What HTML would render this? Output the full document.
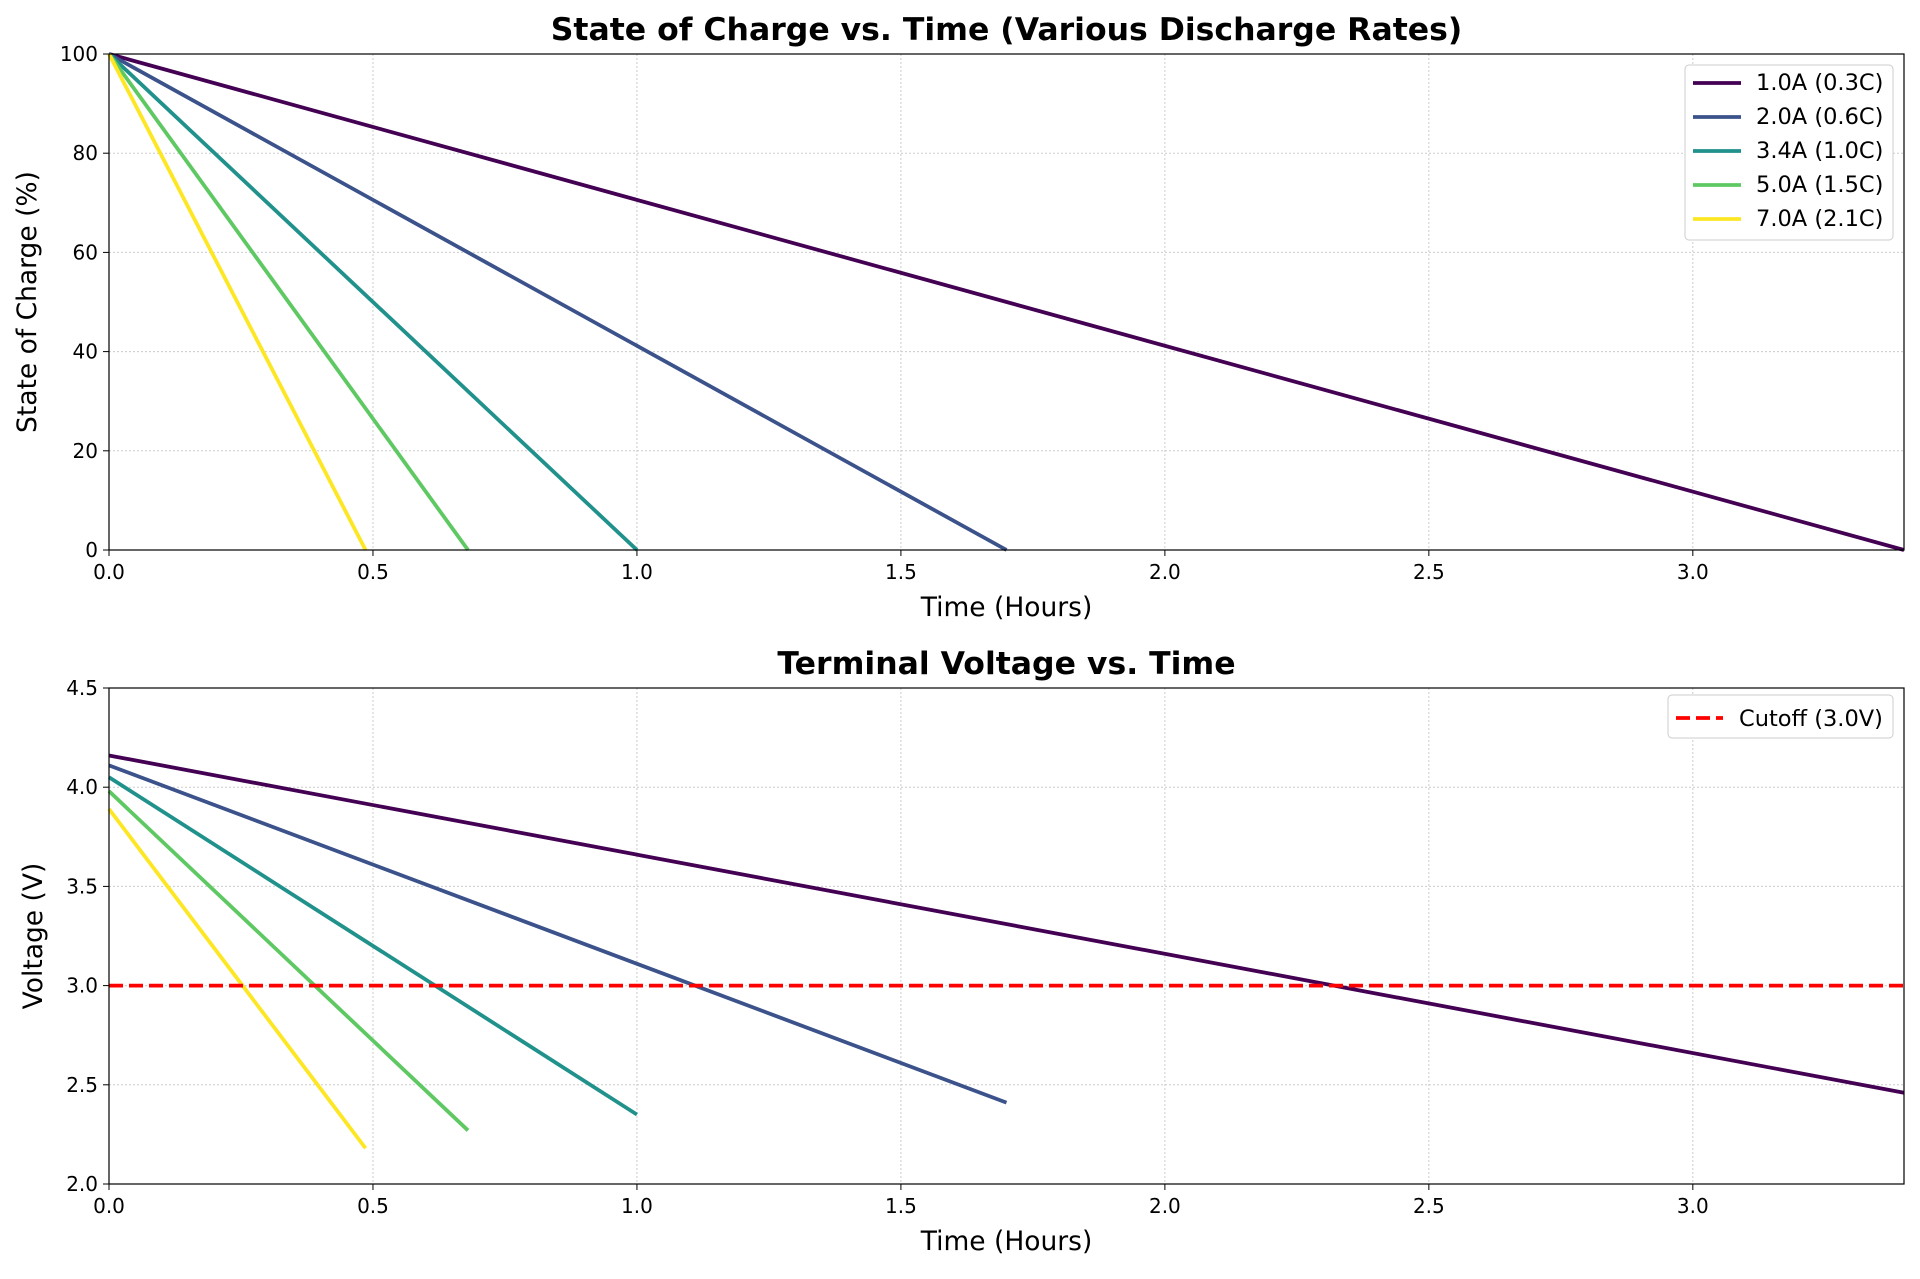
<!DOCTYPE html>
<html><head><meta charset="utf-8"><style>
body{margin:0;background:#fff;}
svg text{font-family:"DejaVu Sans","Liberation Sans",sans-serif;}
</style></head><body>
<svg id="c" width="1920" height="1274" xmlns="http://www.w3.org/2000/svg"></svg>
<script>
const labels=["1.0A (0.3C)","2.0A (0.6C)","3.4A (1.0C)","5.0A (1.5C)","7.0A (2.1C)"];
const endTimes=[3.4,1.7,1.0,0.68,0.486];
const vStart=[4.16,4.11,4.05,3.98,3.89];
const vEnd=[2.46,2.41,2.35,2.27,2.18];
const colors=["#440154","#3b528b","#21918c","#5ec962","#fde725"];
const xTicks=[0,0.5,1.0,1.5,2.0,2.5,3.0];
const socTicks=[0,20,40,60,80,100];
const vTicks=[2.0,2.5,3.0,3.5,4.0,4.5];
const cutoff=3.0;
const NS="http://www.w3.org/2000/svg";
const svg=document.getElementById('c');
const L=109,R=1904;
function el(t,a,txt){const e=document.createElementNS(NS,t);for(const k in a)e.setAttribute(k,a[k]);if(txt!==undefined)e.textContent=txt;svg.appendChild(e);return e;}
function panel(top,bot,ymin,ymax,yticks,yfmt,title,ylabel,pfx,ylx){
 const sx=v=>L+(v/3.4)*(R-L), sy=v=>bot-(v-ymin)/(ymax-ymin)*(bot-top);
 xTicks.forEach(t=>{let g=el('line',{x1:sx(t),x2:sx(t),y1:top,y2:bot,stroke:'#ccc','stroke-dasharray':'2,2','stroke-width':1});
  el('line',{x1:sx(t),x2:sx(t),y1:bot,y2:bot+6,stroke:'#000'});
  let tx=el('text',{x:sx(t),y:bot+29,'font-size':20,'text-anchor':'middle'},t.toFixed(1));});
 yticks.forEach(t=>{let g=el('line',{x1:L,x2:R,y1:sy(t),y2:sy(t),stroke:'#ccc','stroke-dasharray':'2,2','stroke-width':1});
  el('line',{x1:L-6,x2:L,y1:sy(t),y2:sy(t),stroke:'#000'});
  let tx=el('text',{x:L-11,y:sy(t)+7,'font-size':20,'text-anchor':'end'},yfmt(t));});
 let tt=el('text',{x:(L+R)/2,y:top-14,'font-size':31.5,'font-weight':'bold','text-anchor':'middle'},title);
 let xl=el('text',{x:(L+R)/2,y:bot+66,'font-size':26.5,'text-anchor':'middle'},'Time (Hours)');
 let yl=el('text',{x:0,y:0,'font-size':26.5,'text-anchor':'middle',transform:`translate(${ylx},${(top+bot)/2}) rotate(-90)`},ylabel);
 return {sx,sy};
}
const a=panel(54,550,0,100,socTicks,t=>t.toFixed(0),'State of Charge vs. Time (Various Discharge Rates)','State of Charge (%)','soc',36);
endTimes.forEach((te,i)=>{let l=el('line',{x1:a.sx(0),y1:a.sy(100),x2:a.sx(te),y2:a.sy(0),stroke:colors[i],'stroke-width':3.8});});
let f1=el('rect',{x:L,y:54,width:R-L,height:496,fill:'none',stroke:'#000','stroke-width':1.2});
const b=panel(688,1184,2.0,4.5,vTicks,t=>t.toFixed(1),'Terminal Voltage vs. Time','Voltage (V)','volt',42);
endTimes.forEach((te,i)=>{let l=el('line',{x1:b.sx(0),y1:b.sy(vStart[i]),x2:b.sx(te),y2:b.sy(vEnd[i]),stroke:colors[i],'stroke-width':3.8});});
let co=el('line',{x1:L,x2:R,y1:b.sy(cutoff),y2:b.sy(cutoff),stroke:'#ff0000','stroke-width':3.8,'stroke-dasharray':'14,6'});
let f2=el('rect',{x:L,y:688,width:R-L,height:496,fill:'none',stroke:'#000','stroke-width':1.2});
let lg=el('rect',{x:1685,y:65,width:208,height:175,fill:'#fff',stroke:'#ccc',rx:4});
labels.forEach((s,i)=>{const y=83+i*34;
 let ln=el('line',{x1:1693,x2:1741,y1:y,y2:y,stroke:colors[i],'stroke-width':3.8});
 let tx=el('text',{x:1756,y:y+7,'font-size':22.5},s);});
let lg2=el('rect',{x:1668,y:695,width:225,height:43,fill:'#fff',stroke:'#ccc',rx:4});
let l2=el('line',{x1:1676,x2:1723,y1:718,y2:718,stroke:'#ff0000','stroke-width':3.8,'stroke-dasharray':'14,6'});
let t2=el('text',{x:1739,y:726,'font-size':22.5},'Cutoff (3.0V)');
</script>
</body></html>
